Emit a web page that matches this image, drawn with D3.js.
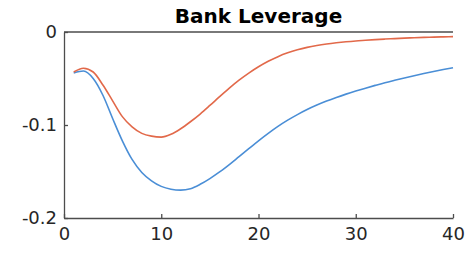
<!doctype html>
<html>
  <head>
    <script src="https://cdn.jsdelivr.net/npm/d3@7"></script>
    <style>
      body { margin: 0; background: #fff; }
      svg { display: block; }
    </style>
  </head>
  <body>
    <svg id="chart" width="467" height="258"></svg>

    <script>
      // horizon (quarters) and the two impulse responses
      var periods = d3.range(1, 41);
      var blueSeries = [
        -0.044, -0.042, -0.050, -0.068, -0.093, -0.117, -0.137, -0.151, -0.160, -0.166,
        -0.169, -0.170, -0.1685, -0.1638, -0.1576, -0.1505, -0.1425, -0.134, -0.1255, -0.117,
        -0.109, -0.1015, -0.0948, -0.0888, -0.0834, -0.0786, -0.0743, -0.0704, -0.0668, -0.0635,
        -0.0604, -0.0574, -0.0545, -0.0519, -0.0494, -0.047, -0.0447, -0.0425, -0.0404, -0.0384
      ];
      var redSeries = [
        -0.043, -0.039, -0.043, -0.057, -0.074, -0.091, -0.102, -0.109, -0.112, -0.113,
        -0.110, -0.104, -0.0965, -0.0882, -0.0790, -0.0695, -0.0603, -0.0518, -0.0442, -0.0374,
        -0.0315, -0.0265, -0.0224, -0.0191, -0.0165, -0.0145, -0.0129, -0.0116, -0.0105, -0.0096,
        -0.0089, -0.0082, -0.0076, -0.0071, -0.0066, -0.0062, -0.0058, -0.0055, -0.0052, -0.005
      ];
      var xTicks = [0, 10, 20, 30, 40];
      var yTicks = [0, -0.1, -0.2];
      var yTickLabels = ["0", "-0.1", "-0.2"];

      (function() {
        var svg = d3.select("#chart");
        var plotLeft = 64, plotRight = 453, plotTop = 32, plotBottom = 218;

        var x = d3.scaleLinear().domain([0, 40]).range([plotLeft, plotRight]);
        var y = d3.scaleLinear().domain([-0.2, 0]).range([plotBottom, plotTop]);

        var axisColor = "#4d4d4d";

        // top border line
        svg.append("line")
          .attr("x1", plotLeft).attr("x2", plotRight)
          .attr("y1", plotTop).attr("y2", plotTop)
          .attr("stroke", axisColor).attr("stroke-width", 1.3);

        var xAxis = svg.append("g")
          .attr("transform", "translate(0," + plotBottom + ")")
          .call(d3.axisBottom(x).tickValues(xTicks).tickSizeInner(-4).tickSizeOuter(0).tickPadding(9));

        var yAxis = svg.append("g")
          .attr("transform", "translate(" + plotLeft + ",0)")
          .call(d3.axisLeft(y).tickValues(yTicks).tickSizeInner(-4).tickSizeOuter(0).tickPadding(7)
            .tickFormat(function(d, i) { return yTickLabels[i]; }));

        [xAxis, yAxis].forEach(function(g) {
          g.select(".domain").attr("stroke", axisColor).attr("stroke-width", 1.3);
          g.selectAll(".tick line").attr("stroke", axisColor).attr("stroke-width", 1.3);
          g.selectAll(".tick text")
            .attr("fill", "#262626")
            .style("font-family", "DejaVu Sans")
            .style("font-size", "18px");
        });

        var line = d3.line()
          .x(function(d) { return x(d[0]); })
          .y(function(d) { return y(d[1]); })
          .curve(d3.curveMonotoneX);

        svg.append("path")
          .datum(periods.map(function(p, i) { return [p, blueSeries[i]]; }))
          .attr("fill", "none")
          .attr("stroke", "#4a8ed6")
          .attr("stroke-width", 1.6)
          .attr("d", line);

        svg.append("path")
          .datum(periods.map(function(p, i) { return [p, redSeries[i]]; }))
          .attr("fill", "none")
          .attr("stroke", "#e2694a")
          .attr("stroke-width", 1.6)
          .attr("d", line);

        svg.append("text")
          .attr("x", (plotLeft + plotRight) / 2)
          .attr("y", 23)
          .attr("text-anchor", "middle")
          .style("font-family", "DejaVu Sans")
          .style("font-weight", "bold")
          .style("font-size", "20px")
          .attr("fill", "#000")
          .text("Bank Leverage");
      })();
    </script>
  </body>
</html>
